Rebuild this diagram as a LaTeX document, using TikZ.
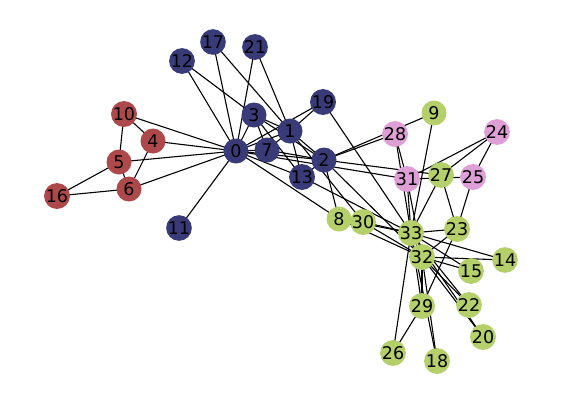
\documentclass[tikz,border=0pt]{standalone}
\usepackage{fontspec}
\setmainfont{DejaVu Sans}
\definecolor{cblue}{HTML}{393B79}
\definecolor{cred}{HTML}{AD494A}
\definecolor{cpink}{HTML}{DE9ED6}
\definecolor{cgreen}{HTML}{B5CF6B}
\begin{document}
\begin{tikzpicture}[x=1pt,y=-1pt,
  vtx/.style={circle,minimum size=25pt,inner sep=0pt,text=black,font=\fontsize{17.5}{19}\selectfont},
  vb/.style={vtx,fill=cblue},
  vr/.style={vtx,fill=cred},
  vp/.style={vtx,fill=cpink},
  vg/.style={vtx,fill=cgreen},
  edge/.style={draw=black,line width=1.1pt}]
\useasboundingbox (0,0) rectangle (562,405);
\foreach \n/\x/\y in {0/236/151,1/290/131,2/324/160,3/254/115,4/153/141,5/119/162,6/129/189,7/267/150,8/339/219,9/434/113,10/124/114,11/179/228,12/182/61,13/302/177,14/505/260,15/471/271,16/57/196,17/213/42,18/437/361,19/323/102,20/483/337,21/255/47,22/469/305,23/457/229,24/497/132,25/473/177,26/393/353,27/441/175,28/395/134,29/422/306,30/363/222,31/407/179,32/422/257,33/411/233}
  \coordinate (c\n) at (\x,\y);
\foreach \a/\b in {0/1,0/2,0/3,0/4,0/5,0/6,0/7,0/8,0/10,0/11,0/12,0/13,0/17,0/19,0/21,0/31,
  1/2,1/3,1/7,1/13,1/17,1/19,1/21,1/30,
  2/3,2/7,2/8,2/9,2/13,2/27,2/28,2/32,
  3/7,3/12,3/13,4/6,4/10,5/6,5/10,5/16,6/16,
  8/30,8/32,8/33,9/33,13/33,14/32,14/33,15/32,15/33,18/32,18/33,19/33,20/32,20/33,22/32,22/33,
  23/25,23/27,23/29,23/32,23/33,24/25,24/27,24/31,25/31,26/29,26/33,27/33,28/31,28/33,
  29/32,29/33,30/32,30/33,31/32,31/33,32/33}
  \draw[edge] (c\a) -- (c\b);
\foreach \n/\s in {0/vb,1/vb,2/vb,3/vb,4/vr,5/vr,6/vr,7/vb,8/vg,9/vg,10/vr,11/vb,12/vb,13/vb,14/vg,15/vg,16/vr,17/vb,18/vg,19/vb,20/vg,21/vb,22/vg,23/vg,24/vp,25/vp,26/vg,27/vg,28/vp,29/vg,30/vg,31/vp,32/vg,33/vg}
  \node[\s] (n\n) at (c\n) {\n};
\end{tikzpicture}
\end{document}
